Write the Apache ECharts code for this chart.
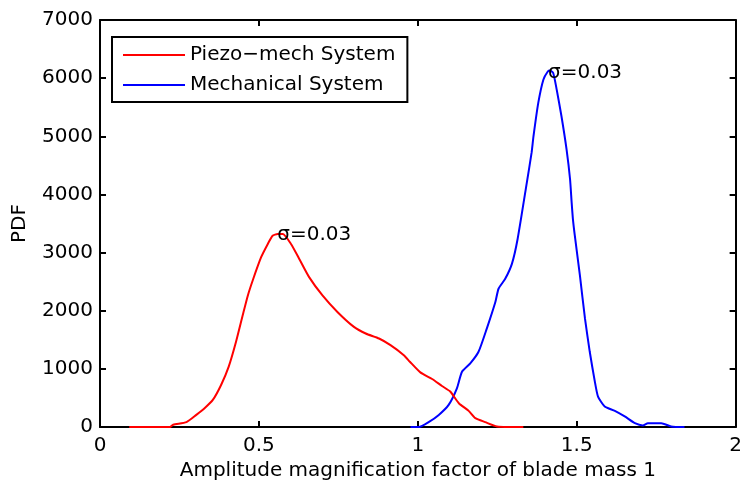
<!DOCTYPE html>
<html>
<head>
<meta charset="utf-8">
<script src="https://cdn.jsdelivr.net/npm/echarts@6/dist/echarts.min.js"></script>
<style>html,body{margin:0;padding:0;background:#fff}#c{width:745px;height:486px}</style>
</head>
<body>
<div id="c"></div>
<script>
var xTicks = [0, 0.5, 1, 1.5, 2];
var yTicks = [0, 1000, 2000, 3000, 4000, 5000, 6000, 7000];
var seriesNames = ['Piezo\u2212mech System', 'Mechanical System'];
var xRed = [0.092,0.22,0.23,0.272,0.303,0.329,0.355,0.381,0.405,0.428,0.449,0.465,0.481,0.507,0.528,0.543,0.559,0.575,0.601,0.627,0.658,0.700,0.747,0.799,0.836,0.878,0.914,0.956,0.975,1.008,1.045,1.076,1.102,1.129,1.160,1.181,1.212,1.249,1.332];
var yRed = [0,0,40,85,210,325,467,724,1039,1467,1922,2260,2530,2921,3149,3291,3320,3320,3149,2892,2579,2264,1980,1723,1609,1523,1409,1237,1124,941,827,707,611,411,279,154,86,12,0];
var xBlue = [0.977,1.003,1.034,1.066,1.097,1.123,1.139,1.165,1.191,1.217,1.244,1.254,1.275,1.296,1.314,1.343,1.358,1.364,1.379,1.395,1.409,1.416,1.426,1.437,1.452,1.468,1.479,1.484,1.488,1.494,1.510,1.526,1.541,1.557,1.567,1.588,1.620,1.651,1.683,1.708,1.724,1.766,1.797,1.839];
var yBlue = [0,0,86,210,382,667,953,1095,1295,1694,2151,2379,2550,2807,3235,4205,4718,5003,5574,5973,6115,6132,6088,5802,5345,4775,4262,3863,3577,3291,2607,1865,1295,782,525,354,279,183,68,29,68,68,12,0];
var annText = '\u03c3=0.03';
var annRed = [0.558, 3300];
var annBlue = [1.41, 6100];

function zip(a, b) { return a.map(function (v, i) { return [v, b[i]]; }); }

var FONT = 'DejaVu Sans';
var FS = 20;
var chart = echarts.init(document.getElementById('c'), null, {renderer: 'canvas'});
var axisLine = {show: true, onZero: false, lineStyle: {color: '#000', width: 2}};
var tick = {show: true, inside: true, length: 6, lineStyle: {color: '#000', width: 2}};
function mark(coord) {
  return {
    symbol: 'none', silent: true,
    data: [{coord: coord, symbol: 'circle', symbolSize: 0,
      label: {show: true, position: 'right', distance: 0, formatter: annText,
        color: '#000', fontFamily: FONT, fontSize: FS}}]
  };
}
chart.setOption({
  animation: false,
  backgroundColor: '#fff',
  grid: {left: 100, right: 7, top: 20, bottom: 57, show: false},
  legend: {
    show: true, orient: 'vertical', left: 112, top: 37,
    data: seriesNames,
    icon: 'rect', itemWidth: 62, itemHeight: 2, itemGap: 10,
    padding: [8, 12, 7, 11],
    borderColor: '#000', borderWidth: 2, backgroundColor: '#fff',
    textStyle: {color: '#000', fontFamily: FONT, fontSize: FS}
  },
  xAxis: [{
    type: 'value', min: 0, max: 2, interval: 0.5, position: 'bottom',
    name: 'Amplitude magnification factor of blade mass 1', nameLocation: 'middle', nameGap: 31,
    nameTextStyle: {color: '#000', fontFamily: FONT, fontSize: FS},
    axisLine: axisLine, axisTick: tick, splitLine: {show: false},
    axisLabel: {color: '#000', fontFamily: FONT, fontSize: FS, margin: 9,
      formatter: function (v) { return xTicks.indexOf(v) >= 0 ? String(v) : ''; }}
  }, {
    type: 'value', min: 0, max: 2, interval: 0.5, position: 'top',
    axisLine: axisLine, axisTick: tick, axisLabel: {show: false}, splitLine: {show: false}
  }],
  yAxis: [{
    type: 'value', min: 0, max: 7000, interval: 1000, position: 'left',
    name: 'PDF', nameLocation: 'middle', nameGap: 70, nameRotate: 90,
    nameTextStyle: {color: '#000', fontFamily: FONT, fontSize: FS},
    axisLine: axisLine, axisTick: tick, splitLine: {show: false},
    axisLabel: {color: '#000', fontFamily: FONT, fontSize: FS, margin: 7,
      formatter: function (v) { return yTicks.indexOf(v) >= 0 ? String(v) : ''; }}
  }, {
    type: 'value', min: 0, max: 7000, interval: 1000, position: 'right',
    axisLine: axisLine, axisTick: tick, axisLabel: {show: false}, splitLine: {show: false}
  }],
  series: [{
    name: seriesNames[0], type: 'line', data: zip(xRed, yRed), showSymbol: false, symbol: 'none',
    smooth: 0.2, lineStyle: {color: '#ff0000', width: 2}, itemStyle: {color: '#ff0000'},
    markPoint: mark(annRed), z: 3
  }, {
    name: seriesNames[1], type: 'line', data: zip(xBlue, yBlue), showSymbol: false, symbol: 'none',
    smooth: 0.2, lineStyle: {color: '#0000ff', width: 2}, itemStyle: {color: '#0000ff'},
    markPoint: mark(annBlue), z: 2
  }]
});
</script>
</body>
</html>
